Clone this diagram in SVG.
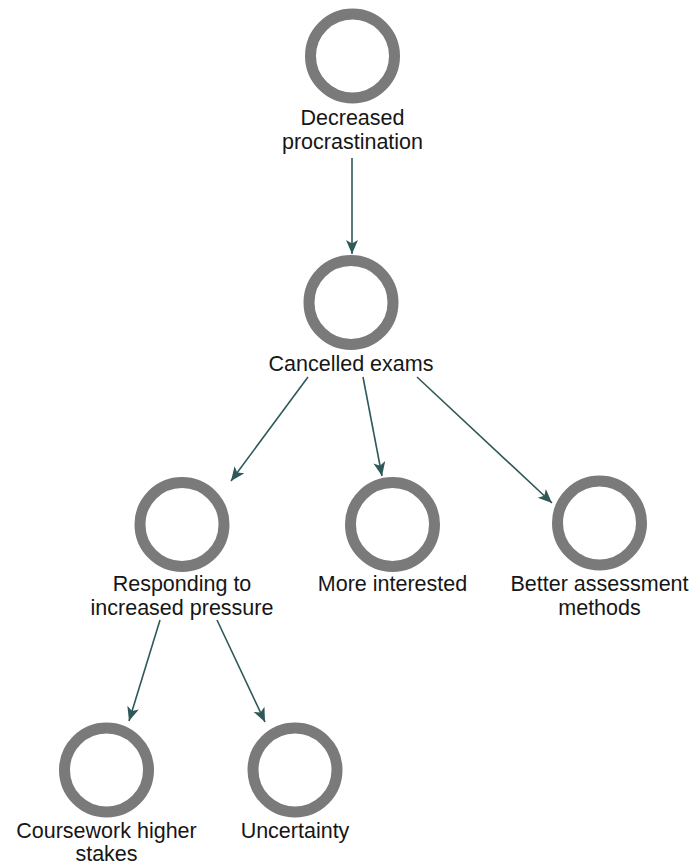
<svg xmlns="http://www.w3.org/2000/svg" width="694" height="866" viewBox="0 0 694 866">
  <style>
    .ring { fill: none; stroke: #7a7a7a; stroke-width: 11; }
    .label { font-family: "Liberation Sans", Arial, sans-serif; font-size: 21.5px; fill: #161616; text-anchor: middle; }
    .edge { fill: none; stroke: #2e5958; stroke-width: 1.6; marker-end: url(#arrow); }
  </style>
  <defs>
    <marker id="arrow" markerUnits="userSpaceOnUse" markerWidth="16" markerHeight="14" refX="14" refY="6" orient="auto">
      <path d="M0,0 L14,6 L0,12 L3.5,6 Z" fill="#2e5958"/>
    </marker>
  </defs>
  <rect width="694" height="866" fill="#ffffff"/>

  <g id="connectors">
    <line class="edge" x1="352" y1="158" x2="352" y2="254"/>
    <line class="edge" x1="308" y1="377" x2="231" y2="481"/>
    <line class="edge" x1="363" y1="377" x2="382" y2="476"/>
    <line class="edge" x1="417" y1="377" x2="552" y2="503"/>
    <line class="edge" x1="160" y1="620" x2="129" y2="721"/>
    <line class="edge" x1="217" y1="620" x2="265" y2="722"/>
  </g>

  <g id="node-decreased-procrastination">
    <circle class="ring" cx="352.5" cy="56" r="42"/>
    <text class="label" x="352.5" y="125">Decreased</text>
    <text class="label" x="352.5" y="149">procrastination</text>
  </g>

  <g id="node-cancelled-exams">
    <circle class="ring" cx="351" cy="302.5" r="42"/>
    <text class="label" x="351" y="371">Cancelled exams</text>
  </g>

  <g id="node-responding">
    <circle class="ring" cx="182" cy="524.5" r="42"/>
    <text class="label" x="182" y="591">Responding to</text>
    <text class="label" x="182" y="615">increased pressure</text>
  </g>

  <g id="node-more-interested">
    <circle class="ring" cx="392.5" cy="524.5" r="42"/>
    <text class="label" x="392.5" y="591">More interested</text>
  </g>

  <g id="node-better-assessment">
    <circle class="ring" cx="599.5" cy="523" r="42"/>
    <text class="label" x="599.5" y="591">Better assessment</text>
    <text class="label" x="599.5" y="615">methods</text>
  </g>

  <g id="node-coursework">
    <circle class="ring" cx="106.5" cy="770" r="42"/>
    <text class="label" x="106.5" y="838">Coursework higher</text>
    <text class="label" x="106.5" y="861">stakes</text>
  </g>

  <g id="node-uncertainty">
    <circle class="ring" cx="295" cy="770" r="42"/>
    <text class="label" x="295" y="838">Uncertainty</text>
  </g>
</svg>
